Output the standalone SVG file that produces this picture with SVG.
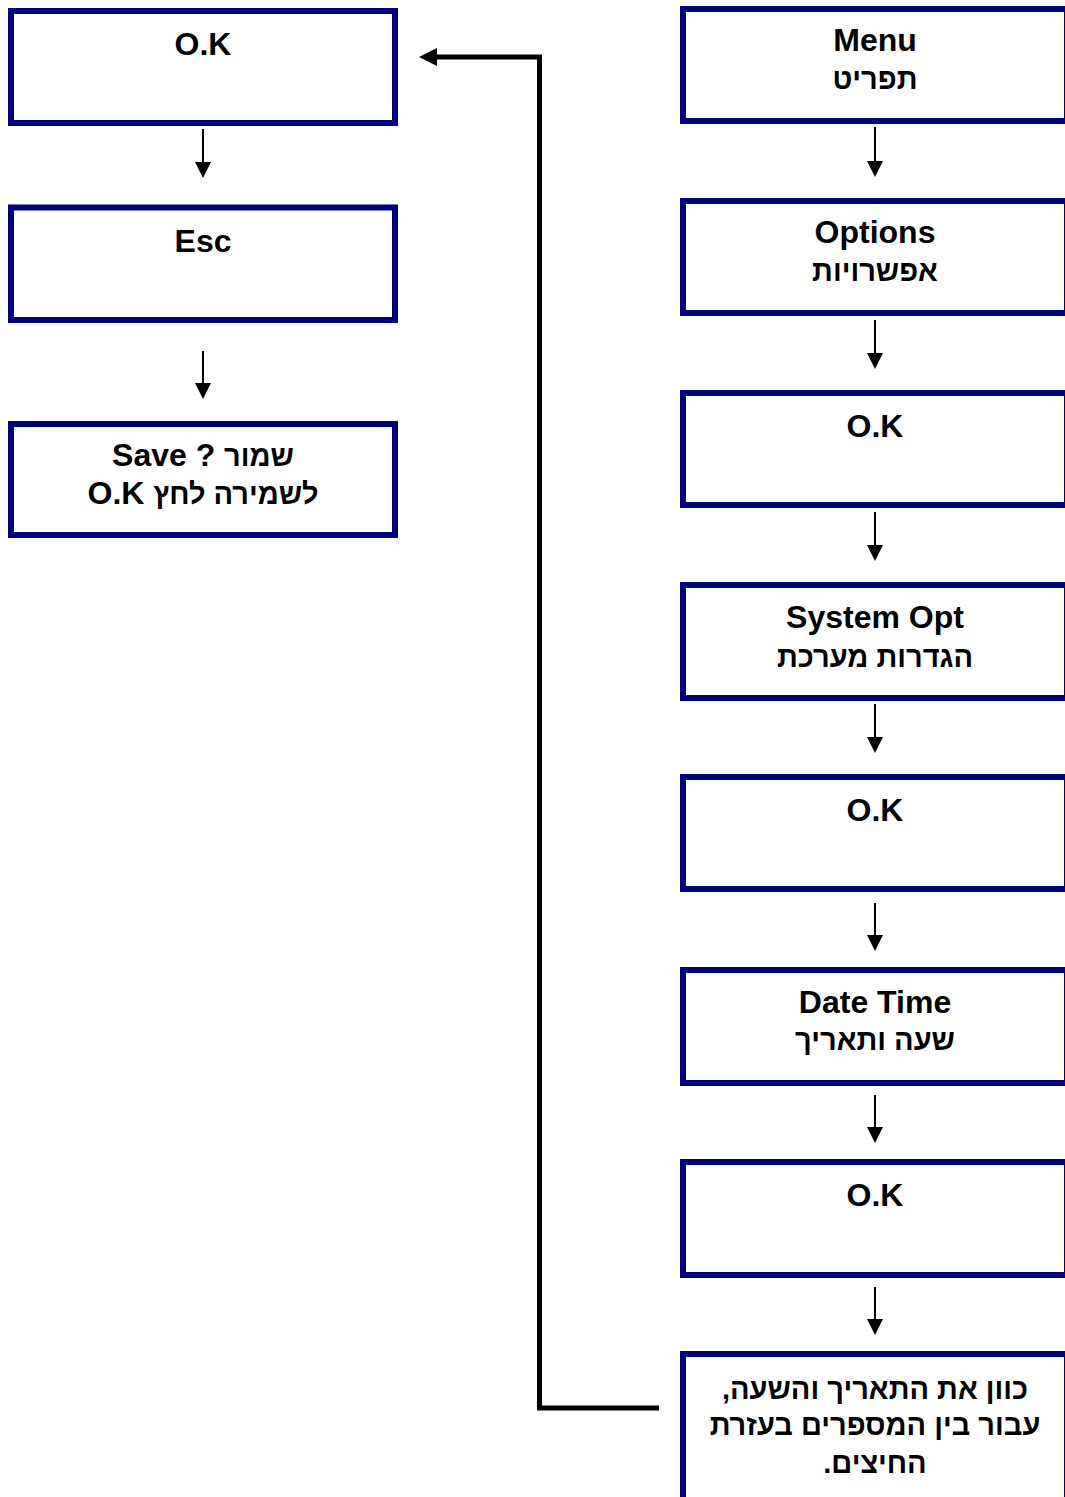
<svg xmlns="http://www.w3.org/2000/svg" width="1065" height="1497" viewBox="0 0 1065 1497">
<style>
.box{fill:#fff;stroke:#000080;stroke-width:6}
.t{font-family:"Liberation Sans",Arial,sans-serif;font-weight:bold;font-size:32px;fill:#000;text-anchor:middle}
.h{font-size:29px}
.a{stroke:#000;stroke-width:2;fill:none}
.c{stroke:#000;stroke-width:5;fill:none;stroke-linejoin:miter}
</style>
<defs>
<marker id="ah" viewBox="0 0 16 16" refX="12" refY="8" markerWidth="16" markerHeight="16" markerUnits="userSpaceOnUse" orient="auto">
<path d="M0,0 L16,8 L0,16 z" fill="#000"/>
</marker>
<marker id="bh" viewBox="0 0 18 18" refX="12" refY="9" markerWidth="18" markerHeight="18" markerUnits="userSpaceOnUse" orient="auto">
<path d="M0,0 L18,9 L0,18 z" fill="#000"/>
</marker>
</defs>
<rect width="1065" height="1497" fill="#fff"/>

<g id="L1"><rect class="box" x="11" y="11" width="384" height="112"/><text class="t" x="203" y="55">O.K</text></g>
<g id="L2"><rect class="box" x="11" y="207.5" width="384" height="112.5"/><text class="t" x="203" y="252">Esc</text></g>
<g id="L3"><rect class="box" x="11" y="424" width="384" height="111"/><text class="t" x="203" y="466">Save ? <tspan class="h">שמור</tspan></text><text class="t" x="203" y="504">O.K <tspan class="h">לשמירה לחץ</tspan></text></g>

<g id="R1"><rect class="box" x="683" y="9" width="384" height="112"/><text class="t" x="875" y="51">Menu</text><text class="t h" x="875" y="89" direction="rtl">תפריט</text></g>
<g id="R2"><rect class="box" x="683" y="201" width="384" height="112"/><text class="t" x="875" y="243">Options</text><text class="t h" x="875" y="281" direction="rtl">אפשרויות</text></g>
<g id="R3"><rect class="box" x="683" y="393" width="384" height="112"/><text class="t" x="875" y="437">O.K</text></g>
<g id="R4"><rect class="box" x="683" y="585" width="384" height="113"/><text class="t" x="875" y="628">System Opt</text><text class="t h" x="875" y="667" direction="rtl">הגדרות מערכת</text></g>
<g id="R5"><rect class="box" x="683" y="777" width="384" height="112"/><text class="t" x="875" y="821">O.K</text></g>
<g id="R6"><rect class="box" x="683" y="970" width="384" height="113"/><text class="t" x="875" y="1013">Date Time</text><text class="t h" x="875" y="1050" direction="rtl">שעה ותאריך</text></g>
<g id="R7"><rect class="box" x="683" y="1162" width="384" height="113"/><text class="t" x="875" y="1206">O.K</text></g>
<g id="R8"><rect class="box" x="683" y="1354" width="384" height="170"/><text class="t h" x="875" y="1399" direction="rtl">כוון את התאריך והשעה,</text><text class="t h" x="875" y="1435" direction="rtl">עבור בין המספרים בעזרת</text><text class="t h" x="875" y="1473" direction="rtl">החיצים.</text></g>

<g id="connectors">
<line class="a" x1="203" y1="129" x2="203" y2="174" marker-end="url(#ah)"/>
<line class="a" x1="203" y1="351" x2="203" y2="395" marker-end="url(#ah)"/>
<line class="a" x1="875" y1="127" x2="875" y2="173" marker-end="url(#ah)"/>
<line class="a" x1="875" y1="320" x2="875" y2="365" marker-end="url(#ah)"/>
<line class="a" x1="875" y1="512" x2="875" y2="557" marker-end="url(#ah)"/>
<line class="a" x1="875" y1="704" x2="875" y2="749" marker-end="url(#ah)"/>
<line class="a" x1="875" y1="903" x2="875" y2="947" marker-end="url(#ah)"/>
<line class="a" x1="875" y1="1095" x2="875" y2="1139" marker-end="url(#ah)"/>
<line class="a" x1="875" y1="1287" x2="875" y2="1331" marker-end="url(#ah)"/>
<path class="c" d="M659,1408 L539.5,1408 L539.5,57 L425,57" marker-end="url(#bh)"/>
</g>
</svg>
